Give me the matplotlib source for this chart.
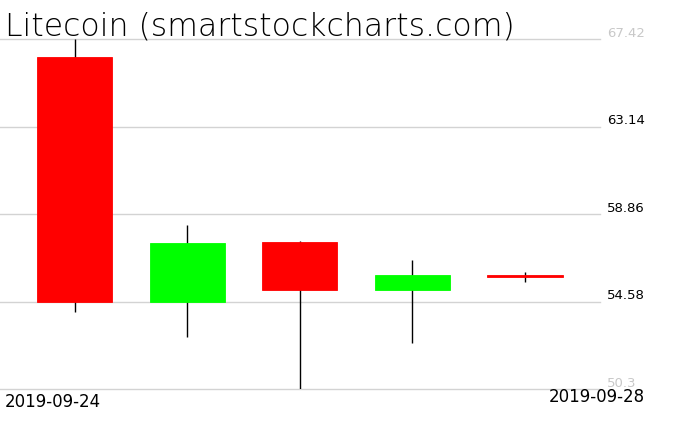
import matplotlib
matplotlib.use("Agg")
import matplotlib.pyplot as plt
import matplotlib.transforms as mtransforms

# daily OHLC
dates = ["2019-09-24", "2019-09-25", "2019-09-26", "2019-09-27", "2019-09-28"]
opens = [66.54, 54.55, 57.49, 55.14, 55.86]
highs = [67.42, 58.32, 57.54, 56.61, 56.04]
lows = [54.06, 52.84, 50.30, 52.55, 55.55]
closes = [54.55, 57.44, 55.14, 55.87, 55.80]
grid_levels = [50.3, 54.58, 58.86, 63.14, 67.42]
level_labels = ["50.3", "54.58", "58.86", "63.14", "67.42"]
title = "Litecoin (smartstockcharts.com)"

UP, DOWN = "#00ff00", "#ff0000"

fig = plt.figure(figsize=(6.76, 4.31), dpi=100)
ax = fig.add_axes([0.0, 41 / 431, 600 / 676, 350 / 431])

for lvl in grid_levels:
    ax.axhline(lvl, color="#d3d3d3", lw=1, zorder=0, clip_on=False)

width = 2 / 3
for i, (o, h, l, c) in enumerate(zip(opens, highs, lows, closes)):
    ax.vlines(i, l, h, color="black", lw=1, zorder=1)
    col = UP if c >= o else DOWN
    ax.bar(i, abs(c - o), bottom=min(o, c), width=width, color=col,
           edgecolor=col, lw=0.6, zorder=2)

ax.set_xlim(-width, len(dates) - 1 + width)
ax.set_ylim(min(grid_levels), max(grid_levels))
ax.axis("off")

trans = mtransforms.blended_transform_factory(ax.transAxes, ax.transData)
for lvl, lab in zip(grid_levels, level_labels):
    edge = lvl in (min(grid_levels), max(grid_levels))
    ax.text(1.012, lvl, lab, transform=trans, ha="left", va="bottom",
            fontsize=9.5, color="#c8c8c8" if edge else "black", clip_on=False)

fig.text(5 / 676, 1 - 11 / 431, title, ha="left", va="top", fontsize=22.7,
         color="black", fontweight="light")
fig.text(5 / 676, 1 - 393 / 431, dates[0], ha="left", va="top", fontsize=12)
fig.text(645 / 676, 1 - 388 / 431, dates[-1], ha="right", va="top", fontsize=12)

fig.savefig("out.png", dpi=100)
